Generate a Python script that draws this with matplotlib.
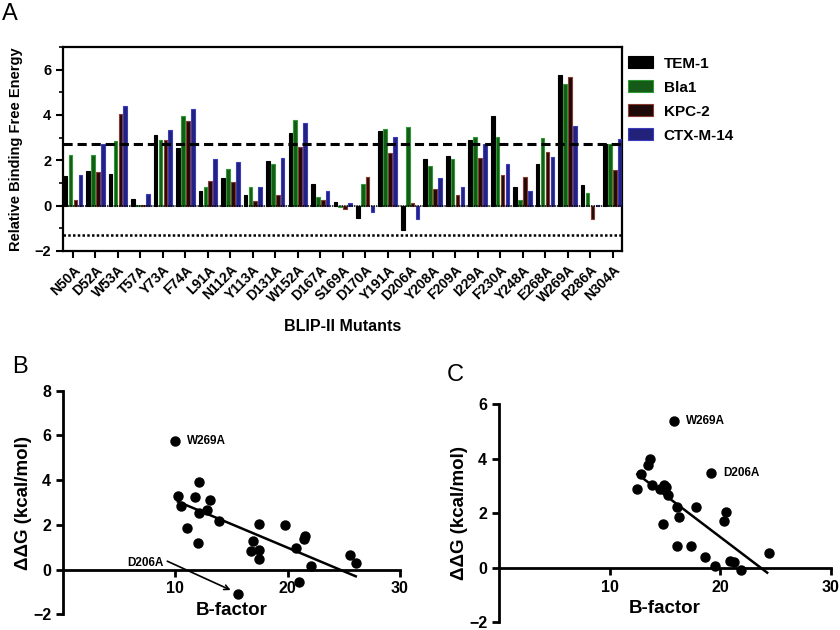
import numpy as np
import matplotlib.pyplot as plt
from matplotlib.ticker import MultipleLocator

plt.rcParams['font.family'] = ['Liberation Sans', 'DejaVu Sans']
plt.rcParams['font.weight'] = 'bold'
plt.rcParams['axes.labelweight'] = 'bold'

# panel A: relative binding free energy per BLIP-II mutant
mutants = ['N50A', 'D52A', 'W53A', 'T57A', 'Y73A', 'F74A', 'L91A', 'N112A',
           'Y113A', 'D131A', 'W152A', 'D167A', 'S169A', 'D170A', 'Y191A',
           'D206A', 'Y208A', 'F209A', 'I229A', 'F230A', 'Y248A', 'E268A',
           'W269A', 'R286A', 'N304A']
tem1 = [1.30, 1.51, 1.39, 0.31, 3.12, 2.53, 0.66, 1.22, 0.48, 1.98, 3.22, 0.95,
        0.16, -0.56, 3.28, -1.07, 2.04, 2.21, 2.89, 3.94, 0.84, 1.86, 5.76,
        0.89, 2.70]
bla1 = [2.24, 2.24, 2.84, 0.03, 2.89, 3.94, 0.84, 1.60, 0.81, 1.86, 3.77, 0.40,
        -0.04, 0.95, 3.40, 3.47, 1.74, 2.05, 3.03, 3.03, 0.25, 2.99, 5.38,
        0.54, 2.70]
kpc2 = [0.25, 1.47, 4.06, 0.03, 2.89, 3.74, 1.10, 1.05, 0.19, 0.48, 2.59, 0.25,
        -0.16, 1.25, 2.34, 0.10, 0.72, 0.47, 2.10, 1.36, 1.27, 2.37, 5.67,
        -0.60, 1.57]
ctxm14 = [1.35, 2.71, 4.40, 0.51, 3.36, 4.28, 2.07, 1.93, 0.84, 2.11, 3.65,
          0.63, 0.13, -0.26, 3.03, -0.60, 1.22, 0.81, 2.71, 1.86, 0.66, 2.15,
          3.52, 0.02, 2.92]
enzymes = ['TEM-1', 'Bla1', 'KPC-2', 'CTX-M-14']
hotspot_cut = 2.7
lower_cut = -1.3

# panel B: TEM-1 ddG vs B-factor
bfac_b = [9.94, 12.1, 10.23, 11.78, 13.05, 10.47, 12.85, 12.1, 13.86, 11.04,
          17.42, 19.79, 12.02, 16.91, 21.57, 21.42, 20.71, 16.71, 17.45, 17.45,
          22.11, 25.58, 26.06, 21.0, 15.6]
ddg_b = [5.77, 3.94, 3.27, 3.24, 3.13, 2.86, 2.67, 2.54, 2.19, 1.85,
         2.03, 2.00, 1.19, 1.30, 1.52, 1.37, 0.97, 0.82, 0.88, 0.48,
         0.18, 0.67, 0.30, -0.54, -1.07]
names_b = ['W269A'] + [''] * 23 + ['D206A']
fit_b_x = [10.23, 26.06]
fit_b_y = [3.04, -0.30]

# panel C: Bla1 ddG vs B-factor
bfac_c = [15.82, 19.19, 13.66, 13.51, 12.82, 13.81, 12.52, 14.92, 14.56, 15.13,
          15.28, 16.06, 17.86, 16.30, 20.57, 20.33, 14.86, 16.06, 17.32, 18.59,
          19.49, 20.93, 21.23, 21.89, 24.38]
ddg_c = [5.39, 3.49, 3.97, 3.76, 3.42, 3.05, 2.88, 3.03, 2.87, 2.97,
         2.66, 2.24, 2.24, 1.87, 2.05, 1.72, 1.59, 0.81, 0.81, 0.41,
         0.08, 0.26, 0.20, -0.08, 0.53]
names_c = ['W269A', 'D206A'] + [''] * 23
fit_c_x = [12.52, 24.25]
fit_c_y = [3.43, -0.18]

fig = plt.figure(figsize=(8.4, 6.3), dpi=100)

# ---- A ----
ax = fig.add_axes([0.075, 0.6016, 0.6655, 0.3238])
x = np.arange(len(mutants))
faces = ['#000000', '#155a17', '#1e0a08', '#22227a']
edges = ['#000000', '#2f9a35', '#8a3a2e', '#3b3bc0']
offs = [-0.33, -0.11, 0.11, 0.33]
for vals, name, fc, ec, o in zip([tem1, bla1, kpc2, ctxm14], enzymes, faces, edges, offs):
    ax.bar(x + o, vals, width=0.16, color=fc, edgecolor=ec, linewidth=0.8,
           label=name, zorder=3)
ax.axhline(0, color='black', lw=1.1, ls=(0, (1, 0.6)), zorder=4)
ax.axhline(hotspot_cut, color='black', lw=2.2, ls=(0, (3, 1.6)), zorder=5)
ax.axhline(lower_cut, color='black', lw=1.8, ls=(0, (1, 0.9)), zorder=4)
ax.set_xlim(-0.44, 24.42)
ax.set_ylim(-2, 7)
ax.yaxis.set_major_locator(MultipleLocator(2))
ax.yaxis.set_minor_locator(MultipleLocator(1))
ax.set_xticks(x)
ax.set_xticklabels(mutants, rotation=45, ha='right', rotation_mode='anchor',
                   fontsize=10)
ax.tick_params(axis='both', which='major', length=5, width=1.5, labelsize=10.5)
ax.tick_params(axis='y', which='minor', length=3, width=1.2)
ax.tick_params(axis='x', labelsize=10)
for s in ax.spines.values():
    s.set_linewidth(1.6)
ax.set_ylabel('Relative Binding Free Energy', fontsize=10.5, labelpad=8)
ax.set_xlabel('BLIP-II Mutants', fontsize=11.5, labelpad=10)
ax.legend(loc='upper left', bbox_to_anchor=(1.01, 0.955), frameon=False,
          fontsize=11, handlelength=1.65, handleheight=0.85, labelspacing=0.63,
          handletextpad=0.7, borderpad=0, borderaxespad=0)

fig.text(0.002, 0.995, 'A', fontsize=17, fontweight='normal', va='top')
fig.text(0.015, 0.435, 'B', fontsize=17, fontweight='normal', va='top')
fig.text(0.532, 0.422, 'C', fontsize=17, fontweight='normal', va='top')


def scatter_panel(rect, bx, dy, names, fx, fy, ytop, arrow_name):
    a = fig.add_axes(rect)
    a.plot(bx, dy, 'o', color='black', ms=6.5, zorder=3)
    a.plot(fx, fy, color='black', lw=1.8)
    for i, n in enumerate(names):
        if n == '':
            continue
        if n == arrow_name:
            a.annotate(n, xy=(bx[i], dy[i]), xytext=(-54, 22),
                       textcoords='offset points', ha='right', va='center',
                       fontsize=8.5,
                       arrowprops=dict(arrowstyle='->', color='black', lw=1.2,
                                       shrinkA=1, shrinkB=6, relpos=(1, 0.8)))
        else:
            a.annotate(n, xy=(bx[i], dy[i]), xytext=(9, 0),
                       textcoords='offset points', ha='left', va='center',
                       fontsize=8.5)
    a.set_xlim(0, 30)
    a.set_ylim(-2, ytop)
    a.spines['top'].set_visible(False)
    a.spines['right'].set_visible(False)
    a.spines['bottom'].set_position(('data', 0))
    for s in ['left', 'bottom']:
        a.spines[s].set_linewidth(2)
    a.set_xticks([10, 20, 30])
    a.yaxis.set_major_locator(MultipleLocator(2))
    a.tick_params(length=5, width=2, labelsize=11.5)
    a.set_xlabel('B-factor', fontsize=13.5, labelpad=4)
    a.set_ylabel('ΔΔG (kcal/mol)', fontsize=13.5, labelpad=1)
    return a


scatter_panel([0.075, 0.0249, 0.4012, 0.3549], bfac_b, ddg_b, names_b,
              fit_b_x, fit_b_y, 8, 'D206A')
scatter_panel([0.594, 0.0122, 0.395, 0.3465], bfac_c, ddg_c, names_c,
              fit_c_x, fit_c_y, 6, None)

fig.savefig('out.png', dpi=100)
